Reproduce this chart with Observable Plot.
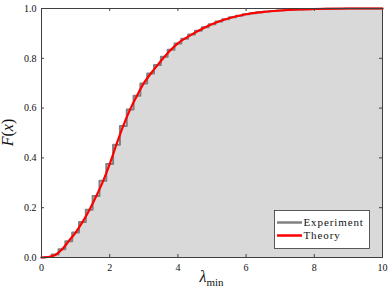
<!DOCTYPE html>
<html>
<head>
<meta charset="utf-8">
<script src="https://cdn.jsdelivr.net/npm/d3@7"></script>
<script src="https://cdn.jsdelivr.net/npm/@observablehq/plot@0.6"></script>
<style>
  html, body { margin: 0; padding: 0; background: white; }
  svg { display: block; }
</style>
</head>
<body>
<div id="chart"></div>
<script>
// Experiment: empirical CDF, stairs every 0.2
const expX = [0,0.2,0.4,0.6,0.8,1.0,1.2,1.4,1.6,1.8,2.0,2.2,2.4,2.6,2.8,3.0,3.2,3.4,3.6,3.8,4.0,4.2,4.4,4.6,4.8,5.0,5.2,5.4,5.6,5.8,6.0,6.2,6.4,6.6,6.8,7.0,7.2,7.4,7.6,7.8,8.0,8.2,8.4,8.6,8.8,9.0,9.2,9.4,9.6,9.8,10.0];
const expF = [0,0.002,0.012,0.033,0.065,0.100,0.143,0.192,0.247,0.308,0.376,0.453,0.528,0.594,0.650,0.699,0.739,0.773,0.806,0.834,0.859,0.879,0.896,0.911,0.925,0.937,0.948,0.957,0.965,0.971,0.977,0.981,0.985,0.988,0.990,0.992,0.994,0.995,0.996,0.997,0.998,0.998,0.999,0.999,0.999,1.0,1.0,1.0,1.0,1.0,1.0];
// Theory curve
const thX = [0,0.2,0.4,0.6,0.8,1.0,1.2,1.4,1.6,1.8,2.0,2.2,2.4,2.6,2.8,3.0,3.2,3.4,3.6,3.8,4.0,4.4,4.8,5.2,5.6,6.0,6.5,7.0,7.5,8.0,9.0,10.0];
const thF = [0,0.002,0.010,0.032,0.066,0.100,0.142,0.190,0.245,0.305,0.375,0.455,0.530,0.595,0.650,0.700,0.738,0.772,0.805,0.835,0.860,0.895,0.925,0.948,0.965,0.977,0.986,0.992,0.996,0.998,1.0,1.0];
const xTicks = [0,2,4,6,8,10];
const yTicks = [0,0.2,0.4,0.6,0.8,1.0];
const seriesNames = ["Experiment","Theory"];
const seriesColors = ["#808080","#ff0000"];

const expData = expX.map((x,i)=>({x, y: expF[i]}));
const thData = thX.map((x,i)=>({x, y: thF[i]}));

const plot = Plot.plot({
  width: 389, height: 292,
  marginLeft: 41, marginRight: 7, marginTop: 8, marginBottom: 35,
  x: {domain: [0,10]},
  y: {domain: [0,1]},
  style: {fontFamily: "'Liberation Serif', serif", fontSize: "10px", background: "white", color: "#111"},
  marks: [
    Plot.areaY(expData, {x: "x", y: "y", curve: "step", fill: "#d9d9d9"}),
    Plot.lineY(expData, {x: "x", y: "y", curve: "step", stroke: seriesColors[0], strokeWidth: 2}),
    Plot.lineY(thData, {x: "x", y: "y", curve: "monotone-x", stroke: seriesColors[1], strokeWidth: 2.2}),
    Plot.ruleX(xTicks, {x: d => d, y1: 0, y2: 0.012, stroke: "#404040"}),
    Plot.ruleX(xTicks, {x: d => d, y1: 0.988, y2: 1, stroke: "#404040"}),
    Plot.ruleY(yTicks, {y: d => d, x1: 0, x2: 0.088, stroke: "#404040"}),
    Plot.ruleY(yTicks, {y: d => d, x1: 9.912, x2: 10, stroke: "#404040"}),
    Plot.frame({stroke: "#404040", strokeWidth: 1}),
    Plot.axisX({ticks: xTicks, tickSize: 0, tickPadding: 6, label: null}),
    Plot.axisY({ticks: yTicks, tickSize: 0, tickPadding: 5, tickFormat: d3.format(".1f"), label: null})
  ]
});
document.getElementById("chart").appendChild(plot);

const svg = d3.select(plot);
const xs = plot.scale("x"), ys = plot.scale("y");
const cx = (xs.apply(0) + xs.apply(10)) / 2;
const cy = (ys.apply(0) + ys.apply(1)) / 2;

// x label: lambda_min
const xl = svg.append("text")
  .attr("x", cx).attr("y", 282)
  .attr("text-anchor", "middle")
  .attr("font-family", "'Liberation Serif', serif")
  .attr("fill", "#111");
xl.append("tspan").attr("font-size", 16).attr("font-style", "italic").text("λ");
xl.append("tspan").attr("font-size", 11).attr("dy", 4).text("min");

// y label: F(x)
const yl = svg.append("text")
  .attr("transform", `translate(13,${cy}) rotate(-90)`)
  .attr("text-anchor", "middle")
  .attr("font-family", "'Liberation Serif', serif")
  .attr("font-size", 16)
  .attr("fill", "#111");
yl.append("tspan").attr("font-style", "italic").text("F");
yl.append("tspan").text("(");
yl.append("tspan").attr("font-style", "italic").text("x");
yl.append("tspan").text(")");

// legend
const lg = svg.append("g").attr("font-family", "'Liberation Serif', serif").attr("font-size", 11);
lg.append("rect").attr("x", 274.5).attr("y", 210.5).attr("width", 95).attr("height", 38)
  .attr("fill", "white").attr("stroke", "#333").attr("stroke-width", 0.8);
seriesNames.forEach((name, i) => {
  const yy = 222.5 + i * 13;
  lg.append("line").attr("x1", 277).attr("x2", 302).attr("y1", yy).attr("y2", yy)
    .attr("stroke", seriesColors[i]).attr("stroke-width", 2.5);
  lg.append("text").attr("x", 303.5).attr("y", yy + 3.8).attr("text-anchor", "start")
    .attr("letter-spacing", 0.9).attr("fill", "#111").text(name);
});
</script>
</body>
</html>
